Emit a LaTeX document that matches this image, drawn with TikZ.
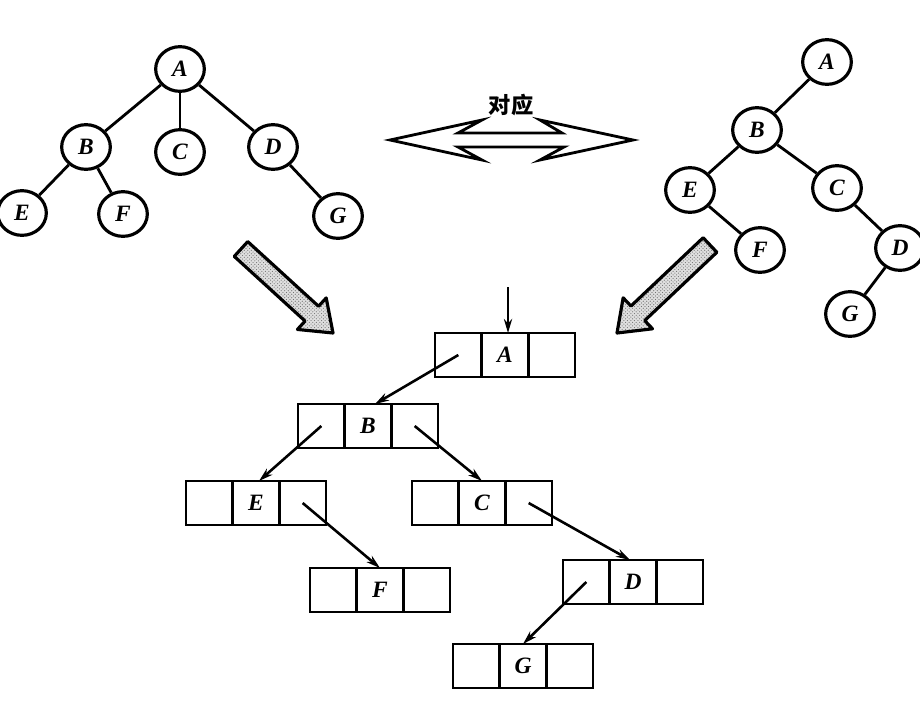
\documentclass[tikz,border=0pt]{standalone}
\usepackage{fontspec}
\setmainfont{Liberation Serif}
\newfontfamily\cjk{Noto Sans CJK SC}
\usetikzlibrary{shapes.geometric,arrows.meta,calc,patterns}

% one row of a binary linked list: left pointer, data, right pointer
\newcommand\linkrow[4]{%
  \node[cell] (#1) at (#2,#3) {#4};
  \node[cell,anchor=east] (#1-l) at (#1.west) {};
  \node[cell,anchor=west] (#1-r) at (#1.east) {};
}
% broad shaded arrow from #1 to #2
\newcommand\fatarrow[2]{%
  \path ($(#2)!0.86cm!(#1)$) coordinate (#2-n);
  \path[bigarrow]
    ($(#1)!0.3cm!90:(#2)$) -- ($(#2-n)!0.3cm!-90:(#1)$) --
    ($(#2-n)!0.64cm!-90:(#1)$) -- (#2) --
    ($(#2-n)!0.64cm!90:(#1)$) -- ($(#2-n)!0.3cm!90:(#1)$) --
    ($(#1)!0.3cm!-90:(#2)$) -- cycle;
  \draw[bigarrow,fill=none,pattern=crosshatch dots,pattern color=black!55]
    ($(#1)!0.3cm!90:(#2)$) -- ($(#2-n)!0.3cm!-90:(#1)$) --
    ($(#2-n)!0.64cm!-90:(#1)$) -- (#2) --
    ($(#2-n)!0.64cm!90:(#1)$) -- ($(#2-n)!0.3cm!90:(#1)$) --
    ($(#1)!0.3cm!-90:(#2)$) -- cycle;
}

\begin{document}
\begin{tikzpicture}[x=0.03cm,y=-0.03cm,
  letter/.style={font=\fontsize{20}{21}\selectfont\bfseries\itshape},
  treenode/.style={draw,ellipse,line width=2.7pt,minimum width=1.46cm,
    minimum height=1.34cm,inner sep=0pt,letter},
  edge/.style={line width=2.4pt},
  cell/.style={draw,line width=2.4pt,minimum width=1.4cm,minimum height=1.32cm,
    inner sep=0pt,outer sep=0pt,letter},
  ptr/.style={line width=2.2pt,-{Stealth[length=12pt,width=7pt]}},
  bigarrow/.style={line width=2.7pt,fill=gray!25,line join=round},
  twoway/.style={draw,line width=2.4pt,fill=white,line join=miter}]

\useasboundingbox (0,0) rectangle (920,716);

% ordinary tree
\node[treenode] (tA) at (180,69) {A};
\node[treenode] (tB) at (86,147) {B};
\node[treenode] (tC) at (180,152) {C};
\node[treenode] (tD) at (273,147) {D};
\node[treenode] (tE) at (22,213) {E};
\node[treenode] (tF) at (123,214) {F};
\node[treenode] (tG) at (338,216) {G};
\draw[edge] (tA) -- (tB);
\draw[edge] (tA) -- (tC);
\draw[edge] (tA) -- (tD);
\draw[edge] (tB) -- (tE);
\draw[edge] (tB) -- (tF);
\draw[edge] (tD) -- (tG);

% corresponding binary tree
\node[treenode] (bA) at (827,62) {A};
\node[treenode] (bB) at (757,130) {B};
\node[treenode] (bE) at (690,190) {E};
\node[treenode] (bC) at (837,188) {C};
\node[treenode] (bF) at (760,250) {F};
\node[treenode] (bD) at (900,248) {D};
\node[treenode] (bG) at (850,314) {G};
\draw[edge] (bA) -- (bB);
\draw[edge] (bB) -- (bE);
\draw[edge] (bB) -- (bC);
\draw[edge] (bE) -- (bF);
\draw[edge] (bC) -- (bD);
\draw[edge] (bD) -- (bG);

% two-way correspondence arrow
\draw[twoway] (390,140) -- (482,120) -- (458,133) -- (562,133) -- (540,120)
  -- (633,140) -- (540,160) -- (564,147) -- (458,147) -- (482,160) -- cycle;
\node[font=\cjk\bfseries\fontsize{19}{21}\selectfont] (lbl) at (511,105) {对应};

% broad arrows towards the storage structure
\coordinate (lt) at (241,249);
\coordinate (lh) at (333,333);
\fatarrow{lt}{lh}
\coordinate (rt) at (710,245);
\coordinate (rh) at (617,333);
\fatarrow{rt}{rh}

% binary linked list
\linkrow{A}{505}{355}{A}
\linkrow{B}{368}{426}{B}
\linkrow{E}{256}{503}{E}
\linkrow{C}{482}{503}{C}
\linkrow{F}{380}{590}{F}
\linkrow{D}{633}{582}{D}
\linkrow{G}{523}{666}{G}

\coordinate (root) at (508,287);
\draw[ptr] (root) -- (A.north -| root);
\draw[ptr] (A-l.center) -- ($(B.north)+(7,0)$);
\draw[ptr] (B-l.center) -- ($(E.north)+(3,0)$);
\draw[ptr] (B-r.center) -- (C.north);
\draw[ptr] (E-r.center) -- (F.north);
\draw[ptr] (C-r.center) -- ($(D.north)+(-3,0)$);
\draw[ptr] (D-l.center) -- (G.north);
\end{tikzpicture}
\end{document}
